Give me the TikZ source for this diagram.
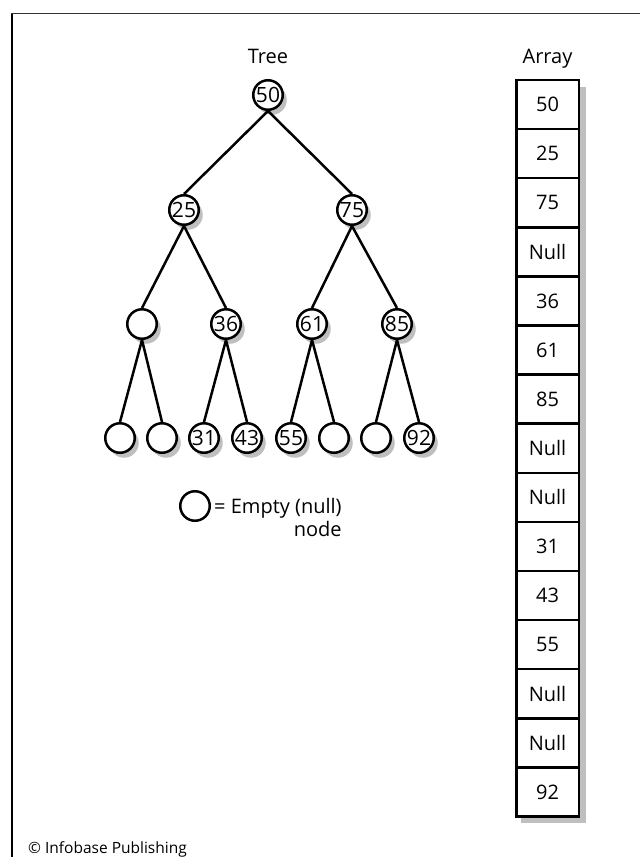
\documentclass[tikz,border=0pt]{standalone}
\usepackage{fontspec}
\setmainfont{Open Sans}
\usetikzlibrary{shadows}
\begin{document}
\begin{tikzpicture}[x=1pt,y=-1pt,
  txt/.style={font=\fontsize{20}{21}\selectfont, inner sep=0pt},
  tn/.style={circle, draw, line width=2.5pt, minimum size=29.5pt, inner sep=0pt,
    fill=white, font=\fontsize{21}{21}\selectfont,
    drop shadow={shadow xshift=4pt, shadow yshift=-5pt, fill=black!25, opacity=1}},
  cell/.style={draw, line width=2.5pt, minimum width=62.5pt, minimum height=49.1pt,
    inner sep=0pt, fill=white, font=\fontsize{20}{20}\selectfont},
  edge/.style={line width=2.5pt}]
\useasboundingbox (0,0) rectangle (640,857);
% frame
\draw[line width=1.4pt] (12,857) -- (12,13.5);
\draw[line width=1.3pt, black!80] (11.3,13.5) -- (640,13.5);
% titles
\node[txt, anchor=base] (ttree) at (268,63) {Tree};
\node[txt, anchor=base] (tarr) at (547.5,63) {Array};
% tree nodes
\node[tn] (n50) at (268,95) {50};
\node[tn] (n25) at (184,210) {25};
\node[tn] (n75) at (352,210) {75};
\node[tn] (e1) at (142,324) {};
\node[tn] (n36) at (226,324) {36};
\node[tn] (n61) at (312,324) {61};
\node[tn] (n85) at (397,324) {85};
\node[tn] (e2) at (120,438) {};
\node[tn] (e3) at (162,438) {};
\node[tn] (n31) at (204,438) {31};
\node[tn] (n43) at (247,438) {43};
\node[tn] (n55) at (291,438) {55};
\node[tn] (e4) at (334,438) {};
\node[tn] (e5) at (376,438) {};
\node[tn] (n92) at (419,438) {92};
% edges
\foreach \p/\c in {n50/n25,n50/n75,n25/e1,n25/n36,n75/n61,n75/n85,
  e1/e2,e1/e3,n36/n31,n36/n43,n61/n55,n61/e4,n85/e5,n85/n92}
  \draw[edge] (\p.south) -- (\c.north);
% legend
\node[circle, draw, line width=2.5pt, minimum size=29.5pt, inner sep=0pt] (leg) at (195,506) {};
\node[txt, anchor=base west] (legt) at (214,513) {= Empty (null)};
\node[txt, anchor=base east] (legn) at (legt.east |- 0,536) {node};
% array
\fill[black!25] (521,87) rectangle (585.5,823);
\foreach [count=\i] \v in {50,25,75,Null,36,61,85,Null,Null,31,43,55,Null,Null,92}
  \node[cell] (a\i) at (547.5,{80+49.1*(\i-0.5)}) {\v};
% credit
\node[font=\fontsize{15.5}{15.5}\selectfont, inner sep=0pt, anchor=base west] (cr) at (28,853) {© Infobase Publishing};
\end{tikzpicture}
\end{document}
